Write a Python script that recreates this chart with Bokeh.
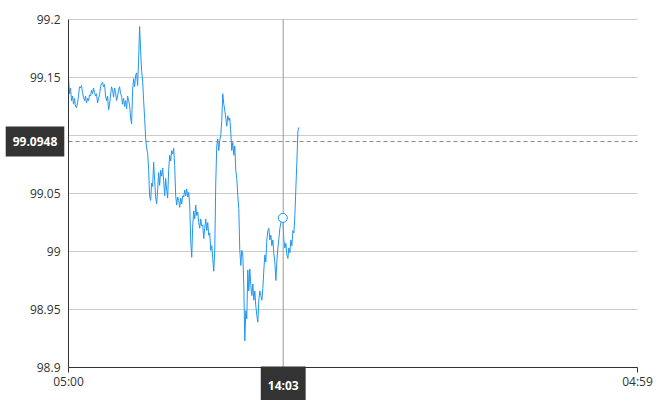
from bokeh.plotting import figure
from bokeh.models import Range1d, FixedTicker, Label
from bokeh.embed import file_html
from bokeh.resources import INLINE

# ---- data ----
x_tick_minutes = [0, 1439]
x_tick_labels = ["05:00", "04:59"]
y_ticks = [98.9, 98.95, 99.0, 99.05, 99.1, 99.15, 99.2]
y_tick_labels = ["98.9", "98.95", "99", "99.05", "99.1", "99.15", "99.2"]
sample_step_seconds = 152
prices = [
    99.150, 99.136, 99.141, 99.130, 99.134, 99.127, 99.132, 99.125, 99.124, 99.128,
    99.134, 99.142, 99.141, 99.143, 99.137, 99.133, 99.130, 99.134, 99.128, 99.132,
    99.130, 99.135, 99.134, 99.139, 99.136, 99.141, 99.137, 99.134, 99.136, 99.128,
    99.132, 99.135, 99.142, 99.145, 99.146, 99.142, 99.144, 99.134, 99.130, 99.134,
    99.122, 99.127, 99.135, 99.142, 99.139, 99.133, 99.141, 99.137, 99.130, 99.134,
    99.139, 99.142, 99.136, 99.134, 99.127, 99.132, 99.125, 99.130, 99.123, 99.134,
    99.130, 99.126, 99.115, 99.110, 99.139, 99.149, 99.142, 99.152, 99.154, 99.143,
    99.165, 99.194, 99.173, 99.156, 99.147, 99.130, 99.115, 99.098, 99.089, 99.085,
    99.070, 99.048, 99.044, 99.059, 99.056, 99.077, 99.061, 99.047, 99.041, 99.053,
    99.068, 99.057, 99.070, 99.065, 99.072, 99.061, 99.048, 99.063, 99.053, 99.046,
    99.070, 99.083, 99.078, 99.087, 99.084, 99.089, 99.074, 99.048, 99.040, 99.047,
    99.044, 99.038, 99.046, 99.041, 99.048, 99.047, 99.053, 99.048, 99.054, 99.047,
    99.051, 99.040, 99.010, 98.995, 99.022, 99.035, 99.028, 99.040, 99.031, 99.034,
    99.025, 99.020, 99.028, 99.022, 99.023, 99.011, 99.020, 99.028, 99.018, 99.025,
    99.014, 99.016, 99.001, 99.005, 98.994, 98.983, 99.001, 99.059, 99.091, 99.097,
    99.087, 99.096, 99.100, 99.113, 99.136, 99.127, 99.122, 99.115, 99.108, 99.117,
    99.113, 99.115, 99.103, 99.087, 99.094, 99.083, 99.091, 99.070, 99.063, 99.048,
    99.037, 99.001, 98.988, 99.001, 98.997, 98.971, 98.923, 98.949, 98.942, 98.984,
    98.966, 98.985, 98.971, 98.962, 98.972, 98.958, 98.966, 98.953, 98.945, 98.939,
    98.958, 98.966, 98.962, 98.958, 98.968, 98.984, 98.997, 98.991, 99.010, 99.018,
    99.020, 99.010, 99.014, 99.005, 99.010, 98.998, 98.991, 98.975, 98.991, 99.003,
    99.011, 99.020, 99.025, 99.027, 99.029, 99.010, 99.003, 99.007, 98.997, 98.994,
    99.003, 98.999, 99.010, 99.005, 99.018, 99.016, 99.031, 99.055, 99.078, 99.104,
    99.107,
]
cross_time_label = "14:03"
cross_time_minutes = 543
cross_price_label = "99.0948"
cross_price = 99.0948

minutes = [i * sample_step_seconds / 60 for i in range(len(prices))]
hi = min(range(len(minutes)), key=lambda i: abs(minutes[i] - cross_time_minutes))

# ---- layout (pixels) ----
W, H = 662, 400
PLOT_L, PLOT_R, PLOT_T, PLOT_B = 68, 637, 19, 367
x0, x1 = x_tick_minutes[0], x_tick_minutes[-1]
y0, y1 = y_ticks[0], y_ticks[-1]
ppx = (PLOT_R - PLOT_L) / (x1 - x0)
ppy = (PLOT_B - PLOT_T) / (y1 - y0)
xr = Range1d(x0 - PLOT_L / ppx, x1 + (W - PLOT_R) / ppx)
yr = Range1d(y0 - (H - PLOT_B) / ppy, y1 + PLOT_T / ppy)

FONT = "Open Sans"
LINE = "#2196f3"

p = figure(width=W, height=H, output_backend="svg", toolbar_location=None,
           x_range=xr, y_range=yr, min_border=0,
           min_border_left=0, min_border_right=0, min_border_top=0, min_border_bottom=0)
p.outline_line_color = None
p.background_fill_color = "white"
p.border_fill_color = "white"
p.grid.visible = False

# axes drawn at the plot-area edges
xa, ya = p.xaxis[0], p.yaxis[0]
xa.fixed_location = y0
ya.fixed_location = x0
xa.bounds = (x0, x1)
ya.bounds = (y0, y1)
xa.ticker = FixedTicker(ticks=x_tick_minutes)
xa.major_label_overrides = {k: v for k, v in zip(x_tick_minutes, x_tick_labels)}
ya.ticker = FixedTicker(ticks=y_ticks)
ya.major_label_overrides = {k: v for k, v in zip(y_ticks, y_tick_labels)}
for ax in (xa, ya):
    ax.axis_line_color = "#333333"
    ax.axis_line_width = 1
    ax.major_label_text_font = FONT
    ax.major_label_text_font_size = "12px"
    ax.major_label_text_color = "#333333"
    ax.minor_tick_line_color = None
xa.major_tick_out = 5
xa.major_tick_in = 0
xa.major_tick_line_color = "#333333"
xa.major_label_standoff = 0
ya.major_tick_line_color = None
ya.major_tick_out = 0
ya.major_tick_in = 0
ya.major_label_standoff = 8

# horizontal grid lines limited to the plot area
p.segment(x0=[x0] * len(y_ticks), x1=[x1] * len(y_ticks), y0=y_ticks, y1=y_ticks,
          line_color="#cccccc", line_width=1)

# price line
p.line(minutes, prices, line_color=LINE, line_width=1)

# crosshair
p.segment(x0=[cross_time_minutes], x1=[cross_time_minutes], y0=[y0], y1=[y1],
          line_color="#999999", line_width=1)
p.segment(x0=[x0], x1=[x1], y0=[cross_price], y1=[cross_price],
          line_color="#888888", line_width=1, line_dash="4 3")
p.scatter([minutes[hi]], [prices[hi]], size=9, marker="circle",
          line_color=LINE, fill_color="white", line_width=1)

pad = dict(left=7, right=7, top=10, bottom=11)
p.add_layout(Label(x=x0, y=cross_price, text=cross_price_label,
                   text_align="center", text_baseline="middle", x_offset=-33.5,
                   text_font=FONT, text_font_size="12px", text_font_style="bold",
                   text_color="white", background_fill_color="#333333",
                   padding=pad))
p.add_layout(Label(x=cross_time_minutes, y=y0, text=cross_time_label,
                   text_align="center", text_baseline="top", y_offset=1,
                   text_font=FONT, text_font_size="12px", text_font_style="bold",
                   text_color="white", background_fill_color="#333333",
                   padding=pad))

open("out.html", "w").write(file_html(p, INLINE))
